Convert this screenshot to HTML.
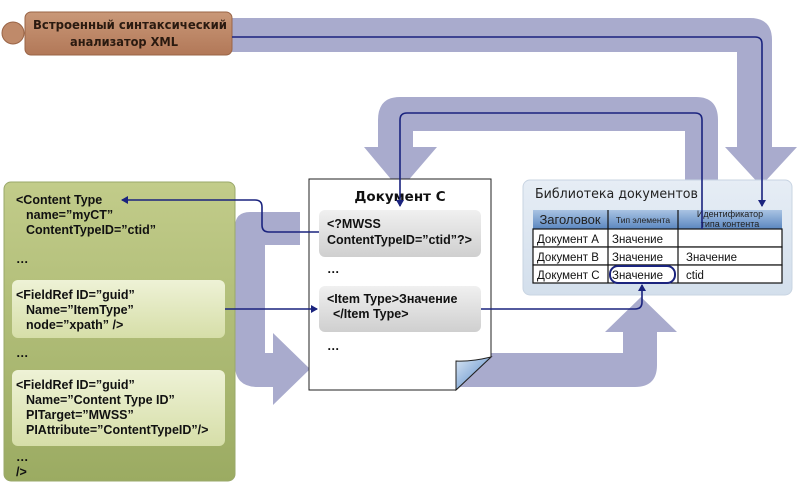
<!DOCTYPE html>
<html><head><meta charset="utf-8"><style>
html,body{margin:0;padding:0;background:#fff;}
svg{display:block;}
text{font-family:"Liberation Sans",Arial,sans-serif;}
.b{font-weight:bold;font-size:12.5px;fill:#111;}
</style></head><body>
<svg width="799" height="494" viewBox="0 0 799 494" xmlns="http://www.w3.org/2000/svg">
<defs>
<linearGradient id="gb" x1="0" y1="0" x2="0" y2="1"><stop offset="0" stop-color="#c99878"/><stop offset="1" stop-color="#b27858"/></linearGradient>
<linearGradient id="gg" x1="0" y1="0" x2="0" y2="1"><stop offset="0" stop-color="#c2cc8a"/><stop offset="1" stop-color="#9bab62"/></linearGradient>
<linearGradient id="gl" x1="0" y1="0" x2="0" y2="1"><stop offset="0" stop-color="#eef2d6"/><stop offset="1" stop-color="#d6dea8"/></linearGradient>
<linearGradient id="gy" x1="0" y1="0" x2="0" y2="1"><stop offset="0" stop-color="#f0f0f0"/><stop offset="1" stop-color="#cfcfcf"/></linearGradient>
<linearGradient id="gh" x1="0" y1="0" x2="0" y2="1"><stop offset="0" stop-color="#a9c3e3"/><stop offset="1" stop-color="#5b87c0"/></linearGradient>
<linearGradient id="glib" x1="0" y1="0" x2="0" y2="1"><stop offset="0" stop-color="#e6edf5"/><stop offset="1" stop-color="#d3dfec"/></linearGradient>
<linearGradient id="gf" x1="0" y1="0" x2="1" y2="1"><stop offset="0" stop-color="#d9e6f4"/><stop offset="1" stop-color="#4d82c4"/></linearGradient>
<marker id="ar" markerWidth="8" markerHeight="8" refX="6" refY="4" orient="auto" markerUnits="userSpaceOnUse"><path d="M0,0 L7,4 L0,8 z" fill="#1a237e"/></marker>
</defs>

<!-- big bands -->
<g fill="#a9abcd">
<path d="M232,18 H750 Q772,18 772,40 V147 H797 L761,186 L725,147 H737 V52 H232 Z"/>
<path d="M378,147 V120 Q378,97 400,97 H696 Q718,97 718,120 V183 H685 V131 H413 V147 H437 L400,190 L364,147 Z"/>
<path d="M250,212 H300 V245 H265 V353 H273 V333 L310,369 L273,405 V387 H258 Q235,387 235,365 V227 Q235,212 250,212 Z"/>
<path d="M450,353 H623 V332 H605 L641,297 L677,332 H657 V365 Q657,387 635,387 H450 Z"/>
</g>

<!-- parser -->
<circle cx="13" cy="33" r="11" fill="#bf8a6a" stroke="#9a6446"/>
<rect x="25" y="12" width="207" height="43" rx="6" fill="url(#gb)" stroke="#9a6446"/>
<text x="33" y="29" textLength="194" lengthAdjust="spacingAndGlyphs" style="font-family:'DejaVu Sans',sans-serif;font-weight:bold;font-size:12px;fill:#2a1a10">Встроенный синтаксический</text>
<text x="70" y="46" textLength="108" lengthAdjust="spacingAndGlyphs" style="font-family:'DejaVu Sans',sans-serif;font-weight:bold;font-size:12px;fill:#2a1a10">анализатор XML</text>

<!-- green box -->
<rect x="4" y="182" width="231" height="299" rx="7" fill="url(#gg)" stroke="#9aa86a"/>
<rect x="12" y="280" width="213" height="58" rx="6" fill="url(#gl)"/>
<rect x="12" y="370" width="213" height="76" rx="6" fill="url(#gl)"/>
<text class="b" x="16" y="204">&lt;Content Type</text>
<text class="b" x="26" y="219">name=”myCT”</text>
<text class="b" x="26" y="234">ContentTypeID=”ctid”</text>
<text class="b" x="16" y="263">…</text>
<text class="b" x="16" y="299">&lt;FieldRef ID=”guid”</text>
<text class="b" x="26" y="314">Name=”ItemType”</text>
<text class="b" x="26" y="329">node=”xpath” /&gt;</text>
<text class="b" x="16" y="357">…</text>
<text class="b" x="16" y="389">&lt;FieldRef ID=”guid”</text>
<text class="b" x="26" y="404">Name=”Content Type ID”</text>
<text class="b" x="26" y="419">PITarget=”MWSS”</text>
<text class="b" x="26" y="434">PIAttribute=”ContentTypeID”/&gt;</text>
<text class="b" x="16" y="461">…</text>
<text class="b" x="16" y="476">/&gt;</text>

<!-- document C -->
<path d="M309,179 H491 V357 L456,390 H309 Z" fill="#fff" stroke="#222"/>
<path d="M491,357 L456,390 L456,361 Q470,362 491,357 Z" fill="url(#gf)" stroke="#222"/>
<text x="400" y="201" text-anchor="middle" style="font-family:'DejaVu Sans',sans-serif;font-weight:bold;font-size:13.5px;fill:#111">Документ С</text>
<rect x="319" y="210" width="162" height="47" rx="6" fill="url(#gy)"/>
<text class="b" x="327" y="228">&lt;?MWSS</text>
<text class="b" x="327" y="244">ContentTypeID=”ctid”?&gt;</text>
<text class="b" x="327" y="273">…</text>
<rect x="319" y="286" width="162" height="46" rx="6" fill="url(#gy)"/>
<text class="b" x="327" y="303">&lt;Item Type&gt;Значение</text>
<text class="b" x="333" y="318">&lt;/Item Type&gt;</text>
<text class="b" x="327" y="350">…</text>

<!-- library -->
<rect x="523" y="180" width="269" height="115" rx="7" fill="url(#glib)" stroke="#c8d4e2"/>
<text x="535" y="198" textLength="163" lengthAdjust="spacingAndGlyphs" style="font-family:'DejaVu Sans',sans-serif;font-size:13px;fill:#222">Библиотека документов</text>
<rect x="533" y="210" width="249" height="19" fill="url(#gh)"/>
<g fill="#fff" stroke="#111" stroke-width="1.2">
<rect x="533" y="229" width="249" height="18"/>
<rect x="533" y="247" width="249" height="18"/>
<rect x="533" y="265" width="249" height="18"/>
</g>
<g stroke="#111" stroke-width="1.2"><line x1="608" y1="210" x2="608" y2="283"/><line x1="678" y1="210" x2="678" y2="283"/></g>
<text x="570" y="224" text-anchor="middle" style="font-size:13px;fill:#222">Заголовок</text>
<text x="643" y="223" text-anchor="middle" style="font-size:8.5px;fill:#222">Тип элемента</text>
<text x="730" y="217" text-anchor="middle" style="font-size:9px;fill:#222">Идентификатор</text>
<text x="730" y="227" text-anchor="middle" style="font-size:9px;fill:#222">типа контента</text>
<g style="font-size:11.5px;fill:#111">
<text x="537" y="243">Документ А</text><text x="612" y="243">Значение</text>
<text x="537" y="261">Документ В</text><text x="612" y="261">Значение</text><text x="686" y="261">Значение</text>
<text x="537" y="279">Документ С</text><text x="612" y="279">Значение</text><text x="686" y="279">ctid</text>
</g>
<rect x="610" y="266" width="65" height="17" rx="8" fill="none" stroke="#1a237e" stroke-width="2"/>

<!-- blue connectors -->
<g fill="none" stroke="#1a237e" stroke-width="1.6">
<path d="M232,37 H755 Q762,37 762,44 V206" marker-end="url(#ar)"/>
<path d="M702,229 V120 Q702,113 695,113 H407 Q400,113 400,120 V206" marker-end="url(#ar)"/>
<path d="M319,232 H269 Q262,232 262,225 V207 Q262,200 255,200 H122" marker-end="url(#ar)"/>
<path d="M225,309 H317" marker-end="url(#ar)"/>
<path d="M481,309 H635 Q642,309 642,302 V285" marker-end="url(#ar)"/>
</g>
</svg>
</body></html>
